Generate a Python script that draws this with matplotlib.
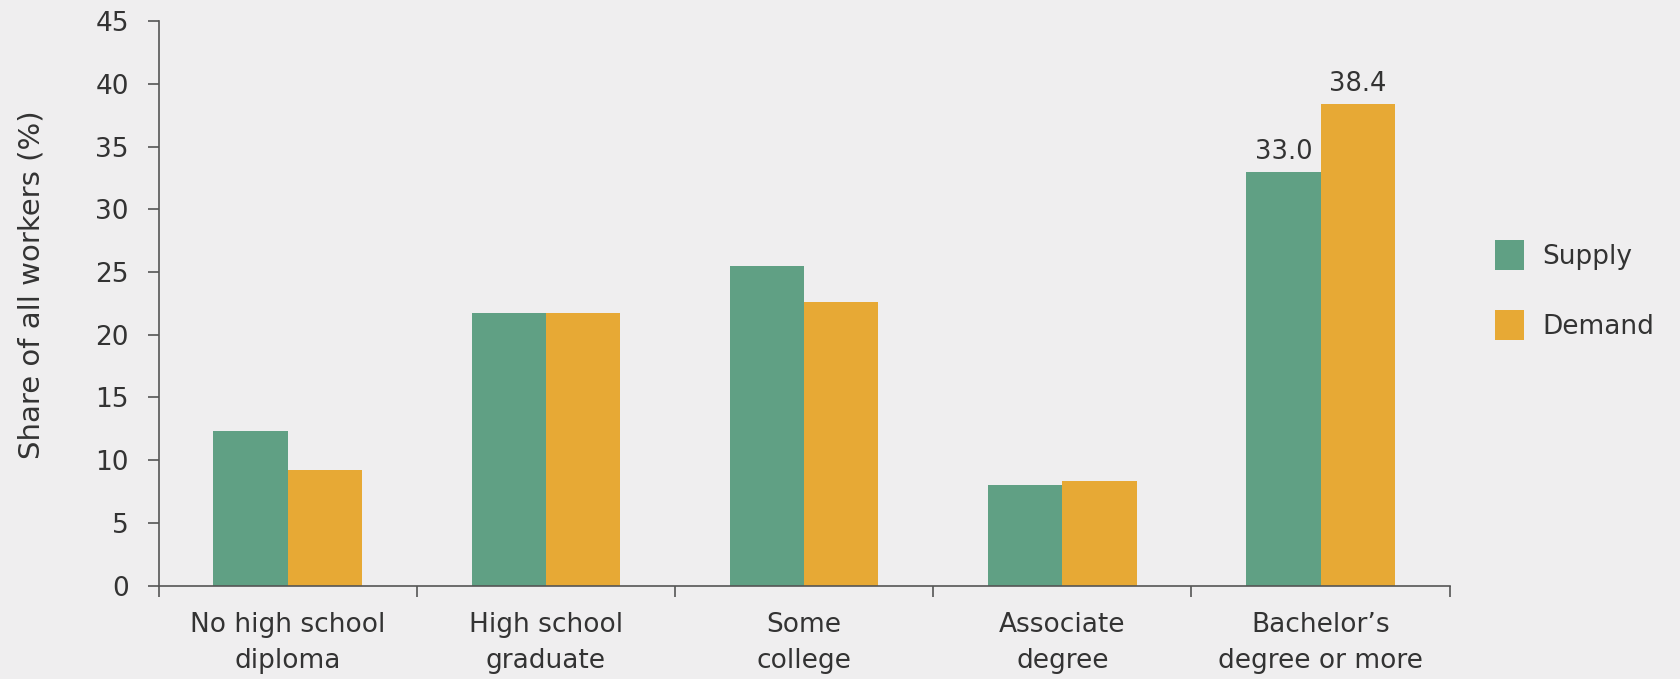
"""
Supply vs. demand of workers by educational attainment.
Grouped bar chart, saved as out.png.
"""

import numpy as np
import matplotlib
matplotlib.use('Agg')
import matplotlib.pyplot as plt

# --- data -------------------------------------------------------------
categories = ['No high school\ndiploma', 'High school\ngraduate',
              'Some\ncollege', 'Associate\ndegree',
              'Bachelor\u2019s\ndegree or more']
supply = [12.3, 21.7, 25.5, 8.0, 33.0]
demand = [9.2, 21.7, 22.6, 8.3, 38.4]
labelled = [4]          # categories that get value labels
y_ticks = list(range(0, 50, 5))

# --- style ------------------------------------------------------------
BG = '#efeeef'
GREEN = '#60a084'
ORANGE = '#e7a935'
TEXT = '#333333'
AXIS = '#555555'

plt.rcParams['font.family'] = ['DejaVu Sans']

fig = plt.figure(figsize=(16.8, 6.79), dpi=100, facecolor=BG)
ax = fig.add_axes([0.0944, 0.1377, 0.7685, 0.8311])
ax.set_facecolor(BG)

x = np.arange(len(categories))
w = 0.288

bars_s = ax.bar(x - w / 2, supply, w, color=GREEN, label='Supply')
bars_d = ax.bar(x + w / 2, demand, w, color=ORANGE, label='Demand')

for i in labelled:
    for bar in (bars_s[i], bars_d[i]):
        ax.annotate(f'{bar.get_height():.1f}',
                    (bar.get_x() + bar.get_width() / 2, bar.get_height()),
                    xytext=(0, 5), textcoords='offset points',
                    ha='center', va='bottom', fontsize=18.5, color=TEXT)

ax.set_xlim(-0.5, len(categories) - 0.5)
ax.set_ylim(0, 45)

# category names centred, tick marks at the group boundaries
ax.set_xticks(x)
ax.set_xticklabels(categories, fontsize=19, color=TEXT, linespacing=1.5)
ax.tick_params(axis='x', which='major', length=0, pad=19)
ax.set_xticks(np.arange(-0.5, len(categories)), minor=True)
ax.tick_params(axis='x', which='minor', length=8, width=1.2, color=AXIS)

ax.set_yticks(y_ticks)
ax.tick_params(axis='y', length=8, width=1.2, color=AXIS,
               labelsize=19, labelcolor=TEXT, pad=13.5)

fig.text(32 / 1680, 1 - 285 / 679, 'Share of all workers (%)',
         rotation=90, ha='center', va='center', fontsize=21, color=TEXT)

for side in ('top', 'right'):
    ax.spines[side].set_visible(False)
for side in ('left', 'bottom'):
    ax.spines[side].set_color(AXIS)
    ax.spines[side].set_linewidth(1.2)

ax.legend(loc='upper left', bbox_to_anchor=(1495 / 1680, 1 - 240 / 679),
          bbox_transform=fig.transFigure, frameon=False,
          borderpad=0, borderaxespad=0,
          fontsize=19, labelcolor=TEXT, handlelength=1.1,
          handleheight=1.35, handletextpad=0.68, labelspacing=1.54)

fig.savefig('out.png', dpi=100, facecolor=BG)
